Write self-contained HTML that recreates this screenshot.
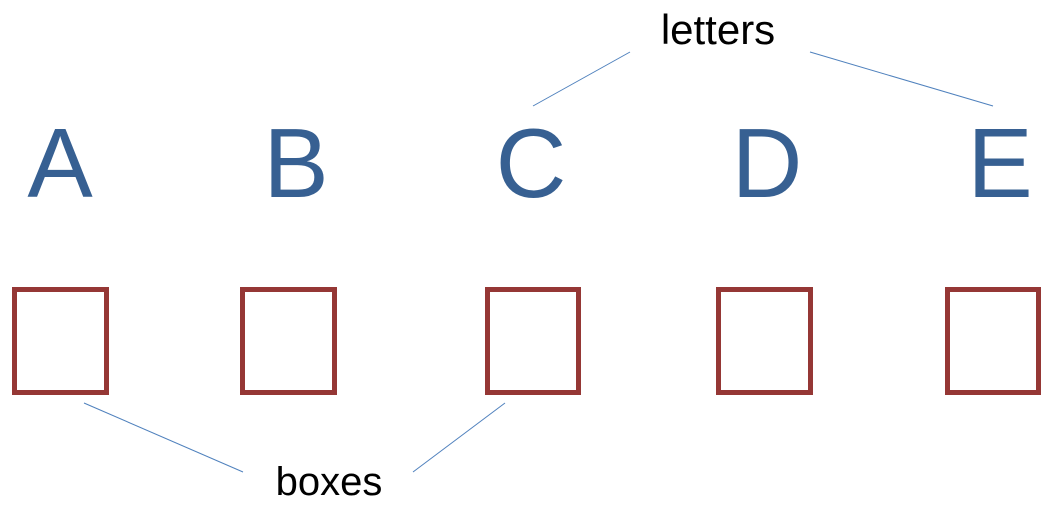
<!DOCTYPE html>
<html><head><meta charset="utf-8"><style>
html,body{margin:0;padding:0;background:#fff;}
svg{display:block;}
</style></head><body>
<svg width="1050" height="514" viewBox="0 0 1050 514">
<g font-family="Liberation Sans, sans-serif" font-size="98" fill="#376092" text-anchor="middle">
<text x="60" y="197">A</text>
<text x="296" y="197">B</text>
<text x="531" y="197">C</text>
<text x="767" y="197">D</text>
<text x="1000" y="197">E</text>
</g>
<g fill="none" stroke="#953735" stroke-width="5">
<rect x="14.5" y="289.5" width="92" height="103"/>
<rect x="242.5" y="289.5" width="92" height="103"/>
<rect x="487.5" y="289.5" width="91" height="103"/>
<rect x="718.5" y="289.5" width="92" height="103"/>
<rect x="947.5" y="289.5" width="91" height="103"/>
</g>
<g stroke="#4f81bd" stroke-width="1">
<line x1="630" y1="52" x2="533" y2="106"/>
<line x1="810" y1="52" x2="993" y2="106"/>
<line x1="84" y1="403" x2="243" y2="472"/>
<line x1="505" y1="403" x2="413" y2="472"/>
</g>
<text x="718" y="44" font-family="Liberation Sans, sans-serif" font-size="42" fill="#000" text-anchor="middle">letters</text>
<text x="329" y="495" font-family="Liberation Sans, sans-serif" font-size="40" fill="#000" text-anchor="middle">boxes</text>
</svg>
</body></html>
